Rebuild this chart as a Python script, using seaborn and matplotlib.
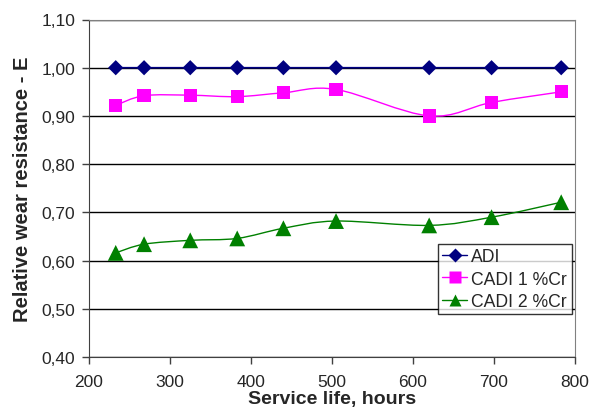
import numpy as np
import pandas as pd
import matplotlib; matplotlib.use("Agg")
import matplotlib.pyplot as plt
import seaborn as sns
from matplotlib.path import Path
from matplotlib.patches import PathPatch
from matplotlib.lines import Line2D
from matplotlib.ticker import FuncFormatter, MultipleLocator

hours  = [233, 268, 325, 383, 440, 505, 620, 697, 783]
adi    = [1.00, 1.00, 1.00, 1.00, 1.00, 1.00, 1.00, 1.00, 1.00]
cadi1  = [0.922, 0.942, 0.943, 0.940, 0.948, 0.955, 0.900, 0.928, 0.950]
cadi2  = [0.616, 0.634, 0.642, 0.646, 0.667, 0.682, 0.673, 0.690, 0.721]
names  = ["ADI", "CADI 1 %Cr", "CADI 2 %Cr"]
colors = ["#000080", "#FF00FF", "#008000"]
marks  = ["D", "s", "^"]
msize  = [60, 90, 130]      # scatter sizes
lsize  = [7, 8, 9]          # legend marker sizes

df = pd.DataFrame({"hours": hours * 3,
                   "E": adi + cadi1 + cadi2,
                   "series": sum([[n] * len(hours) for n in names], [])})

sns.set_style("white")
plt.rcParams["font.family"] = ["Liberation Sans", "DejaVu Sans"]


def smooth_path(x, y):
    # excel-like smoothed line: cubic bezier segments through the points
    p = np.column_stack([x, y]).astype(float)
    verts, codes = [p[0]], [Path.MOVETO]
    n = len(p)
    for i in range(n - 1):
        p0 = p[i - 1] if i > 0 else p[i]
        p3 = p[i + 2] if i + 2 < n else p[i + 1]
        c1 = p[i] + (p[i + 1] - p0) / 6
        c2 = p[i + 1] - (p3 - p[i]) / 6
        verts += [c1, c2, p[i + 1]]
        codes += [Path.CURVE4] * 3
    return Path(verts, codes)


fig = plt.figure(figsize=(5.89, 4.10), dpi=100)
ax = fig.add_axes([0.1511, 0.1268, 0.8251, 0.8232])

for name, col, m, s in zip(names, colors, marks, msize):
    d = df[df["series"] == name]
    ax.add_patch(PathPatch(smooth_path(d["hours"], d["E"]), fill=False,
                           edgecolor=col, lw=1.2 if name == "ADI" else 1.0, zorder=3))
    sns.scatterplot(data=d, x="hours", y="E", color=col, marker=m, s=s,
                    edgecolor="none", ax=ax, legend=False, zorder=4)

ax.set_xlim(200, 800)
ax.set_ylim(0.40, 1.10)
ax.xaxis.set_major_locator(MultipleLocator(100))
ax.yaxis.set_major_locator(MultipleLocator(0.1))
ax.yaxis.set_major_formatter(FuncFormatter(lambda v, _: f"{v:.2f}".replace(".", ",")))
ax.grid(axis="y", color="black", lw=1.0)
ax.set_axisbelow(True)
for sp in ["top", "right"]:
    ax.spines[sp].set_color("#808080")
for sp in ["left", "bottom"]:
    ax.spines[sp].set_color("#404040")
ax.tick_params(direction="out", length=5, width=1, color="#404040",
               labelsize=12.5, left=True, bottom=True)
ax.tick_params(axis="x", pad=7)
ax.tick_params(axis="y", pad=5)
ax.set_xlabel("Service life, hours", fontsize=14, fontweight="bold", labelpad=1)
ax.set_ylabel("Relative wear resistance - E", fontsize=14.5, fontweight="bold", labelpad=7)

handles = [Line2D([], [], color=c, marker=m, markersize=ms, lw=1.0,
                  markeredgecolor="none") for c, m, ms in zip(colors, marks, lsize)]
leg = ax.legend(handles, names, loc="upper left", bbox_to_anchor=(0.718, 0.335),
                borderaxespad=0, fontsize=12.7, frameon=True, fancybox=False,
                handlelength=1.4, handletextpad=0.25, labelspacing=0.3,
                borderpad=0.25, edgecolor="black")
leg.get_frame().set_linewidth(1.0)

fig.savefig("out.png", dpi=100)
